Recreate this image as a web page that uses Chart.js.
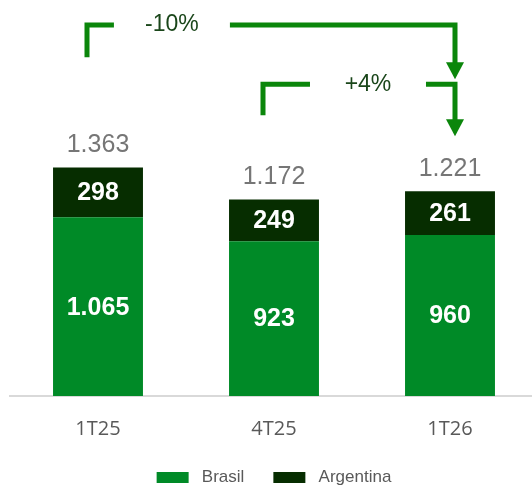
<!DOCTYPE html>
<html><head><meta charset="utf-8">
<script src="https://cdn.jsdelivr.net/npm/chart.js@4"></script>
<style>html,body{margin:0;padding:0;background:#fff;overflow:hidden}#wrap{width:540px;height:486px}</style>
</head><body><div id="wrap"><canvas id="c"></canvas></div>
<script>
const quarters = ["1T25", "4T25", "1T26"];
const brasil = [1065, 923, 960];
const argentina = [298, 249, 261];
const brasilLabels = ["1.065", "923", "960"];
const argentinaLabels = ["298", "249", "261"];
const totalLabels = ["1.363", "1.172", "1.221"];
// variation brackets (levels in chart units, text position in category units)
const changes = [
  { from: 0, to: 2, text: "-10%", textAt: 0.42, level: 2212, start: 2020, tip: 1889 },
  { from: 1, to: 2, text: "+4%", textAt: 1.534, level: 1859, start: 1674, tip: 1548 },
];

const labelsPlugin = {
  id: "labels",
  afterDatasetsDraw(chart) {
    const ctx = chart.ctx;
    const b = chart.getDatasetMeta(0).data;
    const a = chart.getDatasetMeta(1).data;
    ctx.save();
    ctx.textAlign = "center";
    ctx.textBaseline = "middle";
    ctx.fillStyle = "#fff";
    ctx.font = "bold 25px 'Liberation Sans', Arial";
    b.forEach((el, i) => {
      ctx.fillText(brasilLabels[i], el.x, (el.y + el.base) / 2 + 1);
    });
    a.forEach((el, i) => {
      ctx.fillText(argentinaLabels[i], el.x, (el.y + el.base) / 2 + 1);
    });
    ctx.fillStyle = "#767676";
    ctx.font = "25px 'Liberation Sans', Arial";
    a.forEach((el, i) => {
      ctx.fillText(totalLabels[i], el.x, el.y - 22);
    });

    // brackets
    const ys = chart.scales.y, xs = chart.scales.x;
    ctx.strokeStyle = "#0b860b";
    ctx.fillStyle = "#0b860b";
    ctx.lineWidth = 5;
    ctx.lineCap = "butt";
    ctx.lineJoin = "miter";
    changes.forEach((c) => {
      const x0 = b[c.from].x - 11;
      const x1 = b[c.to].x + 5;
      const yl = ys.getPixelForValue(c.level);
      const y0 = ys.getPixelForValue(c.start);
      const yt = ys.getPixelForValue(c.tip);
      const tx = xs.getPixelForValue(c.textAt);
      const gap = 58;
      ctx.beginPath();
      ctx.moveTo(x0, y0);
      ctx.lineTo(x0, yl);
      ctx.lineTo(tx - gap, yl);
      ctx.stroke();
      ctx.beginPath();
      ctx.moveTo(tx + gap, yl);
      ctx.lineTo(x1, yl);
      ctx.lineTo(x1, yt - 16);
      ctx.stroke();
      ctx.beginPath();
      ctx.moveTo(x1 - 9, yt - 17);
      ctx.lineTo(x1 + 9, yt - 17);
      ctx.lineTo(x1, yt);
      ctx.closePath();
      ctx.fill();
      ctx.save();
      ctx.fillStyle = "#1a461a";
      ctx.font = "23px 'Liberation Sans', Arial";
      ctx.fillText(c.text, tx, yl);
      ctx.restore();
    });
    ctx.restore();
  },
};

new Chart(document.getElementById("c"), {
  type: "bar",
  data: {
    labels: quarters,
    datasets: [
      { label: "Brasil", data: brasil, backgroundColor: "#008a27" },
      { label: "Argentina", data: argentina, backgroundColor: "#062d00" },
    ],
  },
  options: {
    responsive: true,
    maintainAspectRatio: false,
    animation: false,
    events: [],
    layout: { padding: { left: 10, right: 2, top: 0, bottom: -10 } },
    datasets: { bar: { barPercentage: 0.511, categoryPercentage: 1 } },
    scales: {
      x: {
        stacked: true,
        grid: { display: false, drawTicks: false },
        border: { color: "#d9d9d9", width: 2 },
        ticks: { color: "#595959", font: { family: "'Open Sans'", size: 20 }, padding: 21 },
        afterFit(scale) { scale.height = 44; },
      },
      y: {
        stacked: true,
        display: false,
        min: 0,
        max: 2361,
      },
    },
    plugins: {
      tooltip: { enabled: false },
      legend: {
        position: "bottom",
        labels: {
          boxWidth: 32,
          boxHeight: 11,
          color: "#595959",
          font: { family: "'Liberation Sans'", size: 17 },
          padding: 29,
          generateLabels(chart) {
            return Chart.defaults.plugins.legend.labels.generateLabels(chart)
              .map((l) => Object.assign(l, { text: " " + l.text, lineWidth: 0 }));
          },
        },
      },
    },
  },
  plugins: [labelsPlugin],
});
</script>
</body></html>
